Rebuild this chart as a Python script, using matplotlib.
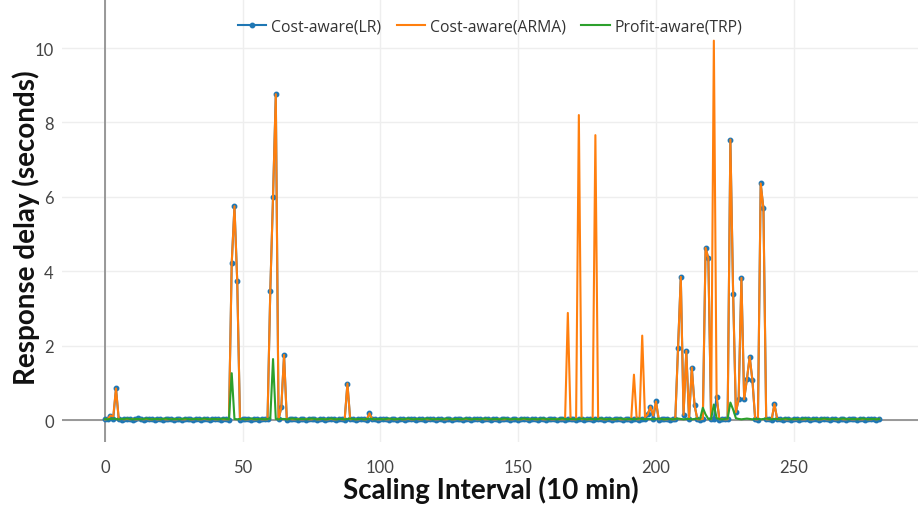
import matplotlib
matplotlib.use("Agg")
import matplotlib.pyplot as plt
import numpy as np

# x: scaling interval index 0..281
intervals = list(range(282))

arma = [
    0.02,0.03,0.12,0.10,0.85,0.02,0.03,0.02,0.03,0.02,0.03,0.02,0.02,0.03,0.02,0.03,0.02,0.02,0.03,0.02,
    0.02,0.03,0.02,0.02,0.03,0.02,0.02,0.03,0.02,0.02,0.03,0.02,0.02,0.03,0.02,0.02,0.03,0.02,0.02,0.03,
    0.02,0.02,0.03,0.02,0.02,0.02,4.21,5.75,3.73,0.02,0.03,0.02,0.02,0.03,0.02,0.02,0.03,0.02,0.02,0.02,
    3.48,6.01,8.76,0.02,0.34,1.75,0.02,0.03,0.02,0.02,0.03,0.02,0.02,0.03,0.02,0.02,0.03,0.02,0.02,0.03,
    0.02,0.02,0.03,0.02,0.02,0.03,0.02,0.02,0.98,0.02,0.03,0.02,0.02,0.03,0.02,0.02,0.18,0.02,0.03,0.02,
    0.02,0.03,0.02,0.02,0.03,0.02,0.02,0.03,0.02,0.02,0.03,0.02,0.02,0.03,0.02,0.02,0.03,0.02,0.02,0.03,
    0.02,0.02,0.03,0.02,0.02,0.03,0.02,0.02,0.03,0.02,0.02,0.03,0.02,0.02,0.03,0.02,0.02,0.03,0.02,0.02,
    0.03,0.02,0.02,0.03,0.02,0.02,0.03,0.02,0.02,0.03,0.02,0.02,0.03,0.02,0.02,0.03,0.02,0.02,0.03,0.02,
    0.02,0.03,0.02,0.02,0.03,0.02,0.02,0.02,2.88,0.02,0.02,0.02,8.20,0.02,0.03,0.02,0.02,0.02,7.66,0.02,
    0.03,0.02,0.02,0.03,0.02,0.02,0.03,0.02,0.02,0.03,0.02,0.02,1.22,0.02,0.02,2.27,0.08,0.15,0.36,0.12,
    0.50,0.02,0.03,0.02,0.02,0.03,0.02,0.02,1.93,3.85,0.14,1.86,0.03,1.41,0.40,0.02,0.02,0.03,4.63,4.35,
    0.02,10.20,0.63,0.02,0.03,0.02,0.02,7.54,3.40,0.21,0.56,3.82,0.56,1.10,1.70,1.07,0.02,0.02,6.36,5.69,
    0.02,0.02,0.03,0.43,0.02,0.02,0.03,0.02,0.02,0.03,0.02,0.02,0.03,0.02,0.02,0.03,0.02,0.02,0.03,0.02,
    0.02,0.03,0.02,0.02,0.03,0.02,0.02,0.03,0.02,0.02,0.03,0.02,0.02,0.03,0.02,0.02,0.03,0.02,0.02,0.03,
    0.02,0.03,
]

lr = [
    0.02,0.04,0.12,0.03,0.85,0.02,0.01,0.03,0.04,0.02,0.01,0.03,0.05,0.02,0.01,0.03,0.02,0.04,0.01,0.02,
    0.03,0.01,0.02,0.04,0.02,0.01,0.03,0.02,0.01,0.04,0.02,0.03,0.01,0.02,0.04,0.01,0.02,0.03,0.01,0.02,
    0.04,0.02,0.01,0.03,0.02,0.01,4.21,5.75,3.73,0.01,0.03,0.02,0.04,0.01,0.02,0.03,0.01,0.02,0.04,0.02,
    3.48,6.01,8.76,0.02,0.34,1.75,0.01,0.03,0.02,0.04,0.01,0.02,0.03,0.01,0.02,0.04,0.02,0.01,0.03,0.02,
    0.01,0.04,0.02,0.03,0.01,0.02,0.04,0.01,0.98,0.02,0.03,0.01,0.02,0.04,0.02,0.01,0.18,0.03,0.02,0.01,
    0.04,0.02,0.03,0.01,0.02,0.04,0.01,0.02,0.03,0.01,0.02,0.04,0.02,0.01,0.03,0.02,0.01,0.04,0.02,0.03,
    0.01,0.02,0.04,0.01,0.02,0.03,0.01,0.02,0.04,0.02,0.01,0.03,0.02,0.01,0.04,0.02,0.03,0.01,0.02,0.04,
    0.01,0.02,0.03,0.01,0.02,0.04,0.02,0.01,0.03,0.02,0.01,0.04,0.02,0.03,0.01,0.02,0.04,0.01,0.02,0.03,
    0.01,0.02,0.04,0.02,0.01,0.03,0.02,0.01,0.04,0.02,0.03,0.01,0.02,0.04,0.01,0.02,0.03,0.01,0.02,0.04,
    0.02,0.01,0.03,0.02,0.01,0.04,0.02,0.03,0.01,0.02,0.04,0.01,0.02,0.03,0.01,0.02,0.04,0.15,0.36,0.02,
    0.50,0.01,0.03,0.02,0.04,0.01,0.02,0.03,1.93,3.85,0.14,1.86,0.03,1.41,0.40,0.02,0.01,0.03,4.63,4.35,
    0.02,0.03,0.63,0.01,0.02,0.04,0.02,7.54,3.40,0.21,0.56,3.82,0.56,1.10,1.70,1.07,0.02,0.01,6.36,5.69,
    0.02,0.04,0.01,0.43,0.02,0.03,0.01,0.02,0.04,0.01,0.02,0.03,0.01,0.02,0.04,0.02,0.01,0.03,0.02,0.01,
    0.04,0.02,0.03,0.01,0.02,0.04,0.01,0.02,0.03,0.01,0.02,0.04,0.02,0.01,0.03,0.02,0.01,0.04,0.02,0.03,
    0.01,0.04,
]

trp = [
    0.03,0.02,0.03,0.04,0.03,0.02,0.03,0.03,0.04,0.03,0.02,0.03,0.03,0.02,0.03,0.04,0.03,0.02,0.03,0.03,
    0.02,0.03,0.04,0.03,0.02,0.03,0.03,0.02,0.03,0.04,0.03,0.02,0.03,0.03,0.02,0.03,0.04,0.03,0.02,0.03,
    0.03,0.02,0.03,0.04,0.03,0.02,1.26,0.03,0.02,0.03,0.03,0.02,0.03,0.04,0.03,0.02,0.03,0.03,0.02,0.03,
    0.04,1.64,0.03,0.02,0.03,0.03,0.02,0.03,0.04,0.03,0.02,0.03,0.03,0.02,0.03,0.04,0.03,0.02,0.03,0.03,
    0.02,0.03,0.04,0.03,0.02,0.03,0.03,0.02,0.03,0.04,0.03,0.02,0.03,0.03,0.02,0.03,0.04,0.03,0.02,0.03,
    0.03,0.02,0.03,0.04,0.03,0.02,0.03,0.03,0.02,0.03,0.04,0.03,0.02,0.03,0.03,0.02,0.03,0.04,0.03,0.02,
    0.03,0.03,0.02,0.03,0.04,0.03,0.02,0.03,0.03,0.02,0.03,0.04,0.03,0.02,0.03,0.03,0.02,0.03,0.04,0.03,
    0.02,0.03,0.03,0.02,0.03,0.04,0.03,0.02,0.03,0.03,0.02,0.03,0.04,0.03,0.02,0.03,0.03,0.02,0.03,0.04,
    0.03,0.02,0.03,0.03,0.02,0.03,0.04,0.03,0.02,0.03,0.03,0.02,0.03,0.04,0.03,0.02,0.03,0.03,0.02,0.03,
    0.04,0.03,0.02,0.03,0.03,0.02,0.03,0.04,0.03,0.02,0.03,0.03,0.02,0.03,0.04,0.03,0.02,0.03,0.03,0.02,
    0.03,0.04,0.03,0.02,0.03,0.03,0.02,0.03,0.04,0.03,0.02,0.03,0.03,0.02,0.03,0.04,0.03,0.33,0.15,0.03,
    0.03,0.42,0.05,0.03,0.02,0.03,0.04,0.47,0.28,0.05,0.03,0.02,0.03,0.04,0.03,0.02,0.03,0.03,0.02,0.03,
    0.04,0.03,0.02,0.03,0.03,0.02,0.03,0.04,0.03,0.02,0.03,0.03,0.02,0.03,0.04,0.03,0.02,0.03,0.03,0.02,
    0.03,0.04,0.03,0.02,0.03,0.03,0.02,0.03,0.04,0.03,0.02,0.03,0.03,0.02,0.03,0.04,0.03,0.02,0.03,0.03,
    0.02,0.03,
]

series_names = ["Cost-aware(LR)", "Cost-aware(ARMA)", "Profit-aware(TRP)"]
colors = ["#1f77b4", "#ff7f0e", "#2ca02c"]
x_ticks = [0, 50, 100, 150, 200, 250]
y_ticks = [0, 2, 4, 6, 8, 10]

fig = plt.figure(figsize=(9.18, 5.06), dpi=100)
ax = fig.add_axes([62/918, 1 - 443/506, 1 - 62/918, 443/506])

ax.plot(intervals, lr, color=colors[0], lw=1.5, marker="o", ms=3.2,
        label=series_names[0], zorder=3)
ax.plot(intervals, arma, color=colors[1], lw=1.5, label=series_names[1], zorder=4)
ax.plot(intervals, trp, color=colors[2], lw=1.5, label=series_names[2], zorder=5)

ax.set_xlim(-15.6, 295.1)
ax.set_ylim(-0.59, 11.32)
ax.set_xticks(x_ticks)
ax.set_yticks(y_ticks)
ax.grid(True, color="#eeeeee", lw=1)
ax.set_axisbelow(True)
ax.axhline(0, color="#888888", lw=1.2, zorder=2)
ax.axvline(0, color="#888888", lw=1.2, zorder=2)
for s in ax.spines.values():
    s.set_visible(False)
ax.tick_params(length=0, labelsize=12, labelcolor="#444444")
for lab in ax.get_xticklabels() + ax.get_yticklabels():
    lab.set_family("Lato")
ax.tick_params(axis="x", pad=12)
ax.tick_params(axis="y", pad=6)

fig.text(0.028, 1 - 228/506, "Response delay (seconds)", rotation=90,
         ha="center", va="center", fontsize=20, fontweight="bold",
         family="Lato", color="#111111")
fig.text(491/918, 1 - 490/506, "Scaling Interval (10 min)", ha="center",
         va="center", fontsize=20, fontweight="bold", family="Lato", color="#111111")

leg = ax.legend(loc="center", bbox_to_anchor=(0.5, 1 - 27/443), ncol=3,
                frameon=False, prop={"family": "Open Sans", "size": 11.3},
                handlelength=1.8, handletextpad=0.3, columnspacing=1.0,
                borderaxespad=0)
for t in leg.get_texts():
    t.set_color("#333333")

fig.savefig("out.png", dpi=100)
